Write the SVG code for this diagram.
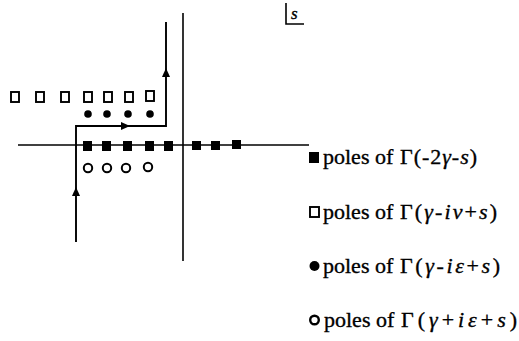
<svg xmlns="http://www.w3.org/2000/svg" width="519" height="341" viewBox="0 0 519 341">
<style>
.ax{stroke:#000;stroke-width:1.6;fill:none}
.ct{stroke:#000;stroke-width:1.9;fill:none}
.fs{fill:#000}
.os{fill:#fff;stroke:#000;stroke-width:1.9}
.oc{fill:#fff;stroke:#000;stroke-width:2}
.fd{fill:#000}
.t{font-family:"Liberation Serif","Times New Roman",serif;font-size:22px;fill:#000;stroke:#000;stroke-width:0.35}
.it{font-style:italic}
</style>
<g id="axes">
<line class="ax" x1="18" y1="145" x2="309" y2="145"/>
<line class="ax" x1="183" y1="13" x2="183" y2="261"/>
</g>
<g id="s-label">
<polyline class="ax" points="286,3 286,24 304,24"/>
<text class="t it" x="291" y="19" style="font-size:17px">s</text>
</g>
<g id="connectors">
<path class="ct" d="M76,242 V126 H166 V22"/>
<path d="M72,196 L76,187 L80,196 z" fill="#000"/>
<path d="M121,122 L130,126 L121,130 z" fill="#000"/>
<path d="M162,77 L166,68 L170,77 z" fill="#000"/>
</g>
<g id="open-squares">
<rect class="os" x="11" y="92" width="8" height="10"/>
<rect class="os" x="36" y="92" width="8" height="10"/>
<rect class="os" x="61" y="92" width="8" height="10"/>
<rect class="os" x="84" y="92" width="8" height="10"/>
<rect class="os" x="104" y="92" width="8" height="10"/>
<rect class="os" x="125" y="92" width="8" height="10"/>
<rect class="os" x="146" y="91" width="8" height="10"/>
</g>
<g id="filled-dots">
<circle class="fd" cx="88" cy="114" r="3.8"/>
<circle class="fd" cx="107" cy="114" r="3.8"/>
<circle class="fd" cx="128" cy="114" r="3.8"/>
<circle class="fd" cx="150" cy="114" r="3.8"/>
</g>
<g id="filled-squares">
<rect class="fs" x="83" y="141" width="9" height="10"/>
<rect class="fs" x="102" y="141" width="9" height="10"/>
<rect class="fs" x="123" y="141" width="9" height="10"/>
<rect class="fs" x="145" y="141" width="9" height="10"/>
<rect class="fs" x="164" y="141" width="9" height="10"/>
<rect class="fs" x="192" y="141" width="9" height="9"/>
<rect class="fs" x="211" y="141" width="9" height="9"/>
<rect class="fs" x="232" y="140" width="9" height="9"/>
</g>
<g id="open-circles">
<circle class="oc" cx="88" cy="168" r="4.2"/>
<circle class="oc" cx="107" cy="168" r="4.2"/>
<circle class="oc" cx="126" cy="168" r="4.2"/>
<circle class="oc" cx="148" cy="167" r="4.2"/>
</g>
<g id="legend-1">
<rect class="fs" x="309" y="152" width="10" height="11"/>
<text class="t" x="323" y="164">poles of</text>
<text class="t" x="400" y="164" textLength="77" lengthAdjust="spacing">Γ(-2<tspan class="it">γ</tspan>-<tspan class="it">s</tspan>)</text>
</g>
<g id="legend-2">
<rect class="os" x="310" y="207" width="9" height="10"/>
<text class="t" x="323" y="219">poles of</text>
<text class="t" x="400" y="219" textLength="97" lengthAdjust="spacing">Γ(<tspan class="it">γ</tspan>-<tspan class="it">iv</tspan>+<tspan class="it">s</tspan>)</text>
</g>
<g id="legend-3">
<circle class="fd" cx="314.5" cy="266" r="5"/>
<text class="t" x="323" y="273">poles of</text>
<text class="t" x="400" y="273" textLength="100" lengthAdjust="spacing">Γ(<tspan class="it">γ</tspan>-<tspan class="it">iε</tspan>+<tspan class="it">s</tspan>)</text>
</g>
<g id="legend-4">
<circle class="oc" cx="314.5" cy="320" r="4.3" style="stroke-width:2.4"/>
<text class="t" x="324" y="327">poles of</text>
<text class="t" x="401" y="327" textLength="116" lengthAdjust="spacing">Γ(<tspan class="it">γ</tspan>+<tspan class="it">iε</tspan>+<tspan class="it">s</tspan>)</text>
</g>
</svg>
